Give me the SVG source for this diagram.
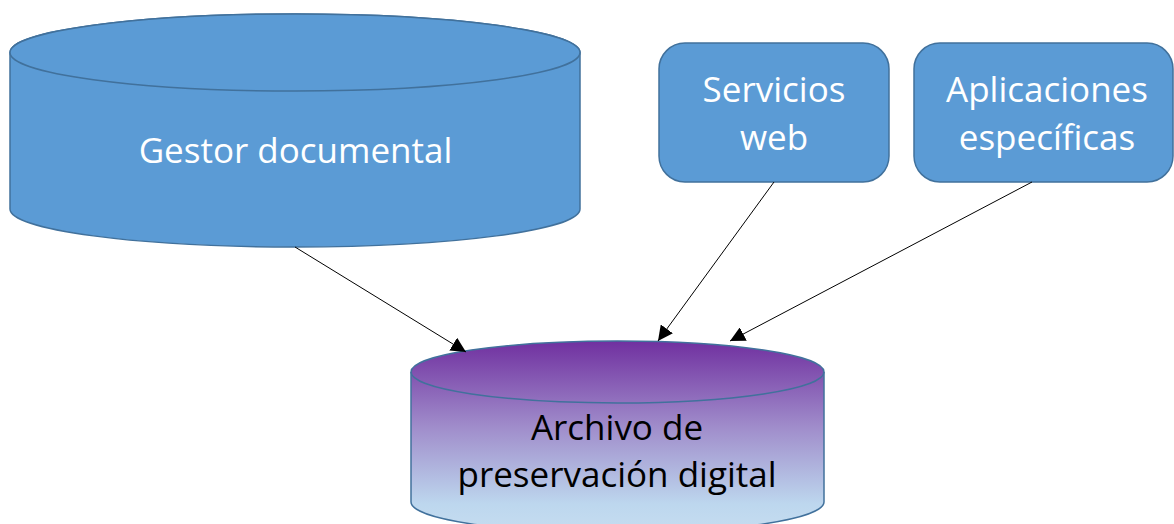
<svg xmlns="http://www.w3.org/2000/svg" width="1174" height="524" viewBox="0 0 1174 524">
<style>
.shape{fill:#5B9BD5;stroke:#41719C;stroke-width:1.5}
.wt{fill:#FFFFFF;font-family:"Open Sans","Noto Sans",sans-serif;font-size:35px;text-anchor:middle}
.bt{fill:#000000;font-family:"Open Sans","Noto Sans",sans-serif;font-size:35px;text-anchor:middle}
.conn{stroke:#000000;stroke-width:1;fill:none;marker-end:url(#arrow)}
</style>
<defs>
<marker id="arrow" viewBox="0 0 10 10" refX="10" refY="5" markerWidth="15" markerHeight="15" markerUnits="userSpaceOnUse" orient="auto">
<path d="M0,0 L10,5 L0,10 Z" fill="#000000"/>
</marker>
<linearGradient id="pg" x1="0" y1="0" x2="0" y2="1">
<stop offset="0" stop-color="#7030A0"/>
<stop offset="0.45" stop-color="#A08DCB"/>
<stop offset="0.85" stop-color="#BDD7EE"/>
<stop offset="1" stop-color="#C6DDF0"/>
</linearGradient>
</defs>
<g id="gestor">
<path class="shape" d="M10,52.5 L10,209 A285,38 0 0 0 580,209 L580,52.5 A285,38.5 0 0 0 10,52.5 Z"/>
<ellipse class="shape" cx="295" cy="52.5" rx="285" ry="38.5"/>
<text class="wt" x="295.5" y="163">Gestor documental</text>
</g>
<g id="servicios">
<rect class="shape" x="659" y="43" width="230" height="139" rx="26" ry="26"/>
<text class="wt" x="774" y="102">Servicios</text>
<text class="wt" x="774" y="150">web</text>
</g>
<g id="aplicaciones">
<rect class="shape" x="914" y="43" width="259" height="139" rx="26" ry="26"/>
<text class="wt" x="1047" y="102">Aplicaciones</text>
<text class="wt" x="1047" y="150">específicas</text>
</g>
<g id="archivo">
<path d="M411,372 L411,502 A206.5,31 0 0 0 824,502 L824,372 A206.5,31 0 0 0 411,372 Z" fill="url(#pg)" stroke="#41719C" stroke-width="1.5"/>
<path d="M411,372 A206.5,31 0 0 0 824,372" fill="none" stroke="#41719C" stroke-width="1.5"/>
<text class="bt" x="617" y="440">Archivo de</text>
<text class="bt" x="617" y="487">preservación digital</text>
</g>
<g id="connectors">
<line class="conn" x1="295" y1="247" x2="466" y2="352"/>
<line class="conn" x1="774" y1="182" x2="658" y2="341"/>
<line class="conn" x1="1032" y1="182" x2="730" y2="341"/>
</g>
</svg>
